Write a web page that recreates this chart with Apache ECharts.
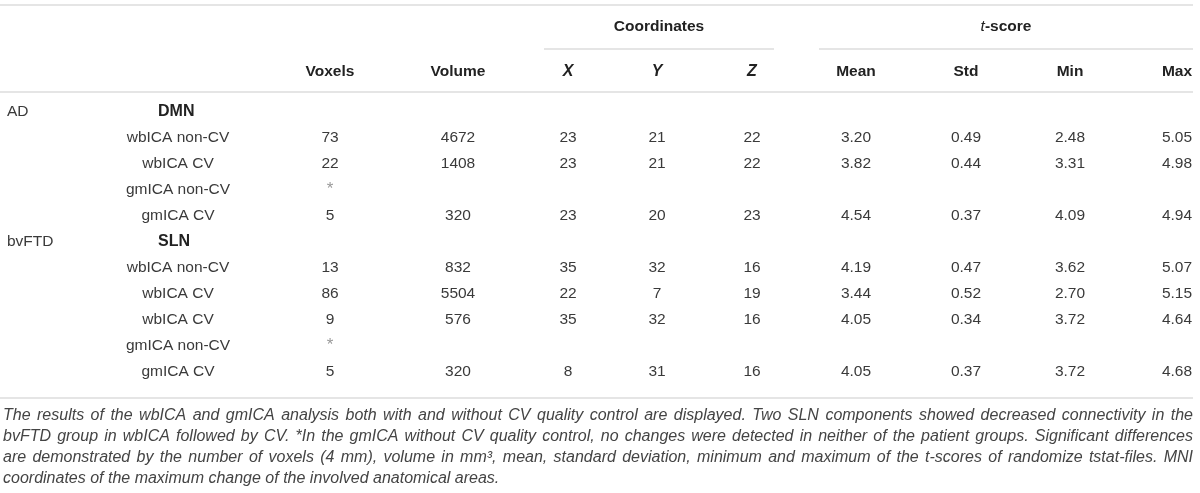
<!DOCTYPE html>
<html>
<head>
<meta charset="utf-8">
<script src="https://cdn.jsdelivr.net/npm/echarts@6/dist/echarts.min.js"></script>
<style>
  html, body { margin: 0; padding: 0; background: #fff; }
  #main { width: 1200px; height: 493px; }
</style>
</head>
<body>
<div id="main"></div>
<script>
// 表格数据
var groupLabels   = ["AD", "", "", "", "", "bvFTD", "", "", "", "", ""];
var networkLabels = ["DMN", "", "", "", "", "SLN", "", "", "", "", ""];
var methods = ["", "wbICA non-CV", "wbICA CV", "gmICA non-CV", "gmICA CV",
               "", "wbICA non-CV", "wbICA CV", "wbICA CV", "gmICA non-CV", "gmICA CV"];
var voxels  = ["", "73", "22", "*", "5", "", "13", "86", "9", "*", "5"];
var volume  = ["", "4672", "1408", "", "320", "", "832", "5504", "576", "", "320"];
var coordX  = ["", "23", "23", "", "23", "", "35", "22", "35", "", "8"];
var coordY  = ["", "21", "21", "", "20", "", "32", "7", "32", "", "31"];
var coordZ  = ["", "22", "22", "", "23", "", "16", "19", "16", "", "16"];
var tMean   = ["", "3.20", "3.82", "", "4.54", "", "4.19", "3.44", "4.05", "", "4.05"];
var tStd    = ["", "0.49", "0.44", "", "0.37", "", "0.47", "0.52", "0.34", "", "0.37"];
var tMin    = ["", "2.48", "3.31", "", "4.09", "", "3.62", "2.70", "3.72", "", "3.72"];
var tMax    = ["", "5.05", "4.98", "", "4.94", "", "5.07", "5.15", "4.64", "", "4.68"];
var headers = ["", "", "", "Voxels", "Volume", "X", "Y", "Z", "Mean", "Std", "Min", "Max"];

var captionLines = [
  "The results of the wbICA and gmICA analysis both with and without CV quality control are displayed. Two SLN components showed decreased connectivity in the",
  "bvFTD group in wbICA followed by CV. *In the gmICA without CV quality control, no changes were detected in neither of the patient groups. Significant differences",
  "are demonstrated by the number of voxels (4 mm), volume in mm\u00b3, mean, standard deviation, minimum and maximum of the t-scores of randomize tstat-files. MNI",
  "coordinates of the maximum change of the involved anatomical areas."
];

// 列的位置（版式）
var columns = [groupLabels, networkLabels, methods, voxels, volume, coordX, coordY, coordZ, tMean, tStd, tMin, tMax];
var colX     = [7, 158, 178, 330, 458, 568, 657, 752, 856, 966, 1070, 1177];
var colAlign = ["left", "left", "center", "center", "center", "center", "center", "center", "center", "center", "center", "center"];

var FONT = "'Liberation Sans', Arial, sans-serif";
var TEXT_COLOR = "#3a3a3a";
var LINE_COLOR = "#dcdcdc";

var rowIndex = methods.map(function (m, i) { return String(i); });

var cells = [];
columns.forEach(function (col, c) {
  col.forEach(function (v, r) {
    if (v !== "") cells.push([c, r, v]);
  });
});

var myChart = echarts.init(document.getElementById("main"));

function hline(x1, x2, y) {
  return {
    type: "line",
    shape: { x1: x1, y1: y, x2: x2, y2: y },
    style: { stroke: LINE_COLOR, lineWidth: 1.5 },
    silent: true
  };
}

function label(text, x, y, opts) {
  opts = opts || {};
  return {
    type: "text",
    x: x,
    y: y,
    silent: true,
    style: {
      text: text,
      fill: opts.fill || "#222",
      font: opts.font || ("bold 15.5px " + FONT),
      textAlign: opts.align || "center",
      textVerticalAlign: "middle",
      align: opts.align || "center",
      verticalAlign: "middle",
      rich: opts.rich
    }
  };
}

// 表注两端对齐
function captionGraphics() {
  var out = [];
  var font = "italic 16px " + FONT;
  var ctx = document.createElement("canvas").getContext("2d");
  ctx.font = font;
  var left = 3, right = 1193;
  captionLines.forEach(function (line, i) {
    var y = 416 + i * 20.7;
    if (i === captionLines.length - 1) {
      out.push(label(line, left, y, { font: font, fill: "#444", align: "left" }));
      return;
    }
    var words = line.split(" ");
    var total = 0;
    var widths = words.map(function (w) { var m = ctx.measureText(w).width; total += m; return m; });
    var gap = (right - left - total) / (words.length - 1);
    var x = left;
    words.forEach(function (w, k) {
      out.push(label(w, x, y, { font: font, fill: "#444", align: "left" }));
      x += widths[k] + gap;
    });
  });
  return out;
}

var headerGraphics = [
  hline(0, 1193, 5),
  hline(544, 774, 49),
  hline(819, 1193, 49),
  hline(0, 1193, 92),
  hline(0, 1193, 398),
  label("Coordinates", 659, 27),
  label("{i|t}{b|-score}", 1006, 27, {
    rich: {
      i: { font: "italic 15.5px " + FONT, fill: "#222" },
      b: { font: "bold 15.5px " + FONT, fill: "#222" }
    }
  })
];
headers.forEach(function (h, c) {
  if (!h) return;
  var italic = (h === "X" || h === "Y" || h === "Z");
  headerGraphics.push(label(h, colX[c], 72, {
    font: (italic ? "italic bold 16px " : "bold 15.5px ") + FONT
  }));
});

var option = {
  animation: false,
  grid: { left: 0, right: 0, top: 99, height: 286 },
  xAxis: { type: "value", min: 0, max: 1200, show: false },
  yAxis: { type: "category", data: rowIndex, inverse: true, show: false },
  graphic: headerGraphics.concat(captionGraphics()),
  series: [
    {
      type: "custom",
      data: cells,
      renderItem: function (params, api) {
        var cell = cells[params.dataIndex];
        var c = cell[0], r = cell[1], text = cell[2];
        var pt = api.coord([colX[c], r]);
        var font = "15.5px " + FONT;
        var fill = TEXT_COLOR;
        var dy = 0;
        if (c === 1) font = "bold 16px " + FONT, fill = "#222";
        if (text === "*") { font = "17px " + FONT; fill = "#9a9a9a"; dy = -1; }
        return {
          type: "text",
          x: pt[0],
          y: pt[1] + dy,
          style: {
            text: text,
            font: font,
            fill: fill,
            textAlign: colAlign[c],
            textVerticalAlign: "middle",
            align: colAlign[c],
            verticalAlign: "middle"
          }
        };
      }
    }
  ]
};

myChart.setOption(option);
</script>
</body>
</html>
